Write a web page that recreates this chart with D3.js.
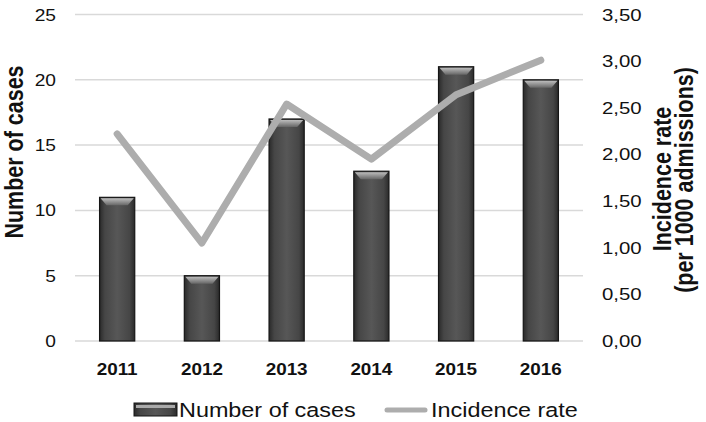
<!DOCTYPE html>
<html><head><meta charset="utf-8">
<script src="https://cdn.jsdelivr.net/npm/d3@7"></script>
<style>
body{margin:0;background:#fff;}
text{font-family:"Liberation Sans",Arial,sans-serif;}
</style></head>
<body><svg id="c" width="706" height="422"></svg>
<script>
const years = ["2011","2012","2013","2014","2015","2016"];
const cases = [11,5,17,13,21,20];
const rate = [2.22,1.05,2.54,1.95,2.64,3.01];
const leftTicks = [0,5,10,15,20,25];
const rightTicks = [0,0.5,1,1.5,2,2.5,3,3.5];

const svg = d3.select("#c");
const m = {l:75, r:583, t:14.5, b:341};
const SX = 1.2; // horizontal stretch of the reference picture
const x = d3.scaleBand().domain(years).range([m.l,m.r]).paddingInner(0.585).paddingOuter(0.29);
const yL = d3.scaleLinear().domain([0,25]).range([m.b,m.t]);
const yR = d3.scaleLinear().domain([0,3.5]).range([m.b,m.t]);

const defs = svg.append("defs");
const g = defs.append("linearGradient").attr("id","bar").attr("x1","0").attr("x2","1").attr("y1","0").attr("y2","0");
g.append("stop").attr("offset","0").attr("stop-color","#2a2a2a");
g.append("stop").attr("offset","0.15").attr("stop-color","#464646");
g.append("stop").attr("offset","0.5").attr("stop-color","#575757");
g.append("stop").attr("offset","0.85").attr("stop-color","#464646");
g.append("stop").attr("offset","1").attr("stop-color","#2a2a2a");
const gt = defs.append("linearGradient").attr("id","bev").attr("x1","0").attr("x2","0").attr("y1","0").attr("y2","1");
gt.append("stop").attr("offset","0").attr("stop-color","#bdbdbd");
gt.append("stop").attr("offset","1").attr("stop-color","#666");

// gridlines
svg.append("g").selectAll("line").data(leftTicks).join("line")
  .attr("x1",m.l).attr("x2",m.r).attr("y1",d=>yL(d)).attr("y2",d=>yL(d))
  .attr("stroke","#d9d9d9").attr("stroke-width",1.5);

// left tick labels
svg.append("g").selectAll("text").data(leftTicks).join("text")
  .attr("transform",d=>`translate(56,${yL(d)+6}) scale(1.13,1)`)
  .attr("text-anchor","end").attr("font-size",17).attr("fill","#111").text(d=>d);

// right tick labels
const fmt = d=>d.toFixed(2).replace(".",",");
svg.append("g").selectAll("text").data(rightTicks).join("text")
  .attr("transform",d=>`translate(602,${yR(d)+6}) scale(${SX},1)`)
  .attr("text-anchor","start").attr("font-size",17).attr("fill","#111").text(fmt);

// bars
const bars = svg.append("g");
bars.selectAll("rect").data(cases).join("rect")
  .attr("x",(d,i)=>x(years[i])).attr("y",d=>yL(d))
  .attr("width",x.bandwidth()).attr("height",d=>yL(0)-yL(d))
  .attr("fill","url(#bar)").attr("stroke","#151515").attr("stroke-width",1.2);
bars.selectAll("path").data(cases).join("path")
  .attr("d",(d,i)=>{const x0=x(years[i])+1, w=x.bandwidth()-2, y0=yL(d)+1, h=7;
    return `M${x0},${y0}L${x0+w},${y0}L${x0+w-6},${y0+h}L${x0+6},${y0+h}Z`;})
  .attr("fill","url(#bev)");

// line
svg.append("path").datum(rate)
  .attr("d",d3.line().x((d,i)=>x(years[i])+x.bandwidth()/2).y(d=>yR(d)))
  .attr("fill","none").attr("stroke","#adadad").attr("stroke-width",7)
  .attr("stroke-linecap","round").attr("stroke-linejoin","round");

// x labels
svg.append("g").selectAll("text").data(years).join("text")
  .attr("transform",d=>`translate(${x(d)+x.bandwidth()/2},375) scale(1.18,1)`)
  .attr("text-anchor","middle")
  .attr("font-size",16).attr("font-weight","bold").attr("fill","#111").text(d=>d);

// axis titles
svg.append("text").attr("transform",`translate(23,152) scale(${SX},1) rotate(-90)`).attr("text-anchor","middle")
  .attr("font-size",21.5).attr("font-weight","bold").attr("fill","#111").text("Number of cases");
svg.append("text").attr("transform",`translate(671,179) scale(${SX},1) rotate(-90)`).attr("text-anchor","middle")
  .attr("font-size",21.5).attr("font-weight","bold").attr("fill","#111").text("Incidence rate");
svg.append("text").attr("transform",`translate(693,180) scale(${SX},1) rotate(-90)`).attr("text-anchor","middle")
  .attr("font-size",21.5).attr("font-weight","bold").attr("fill","#111").text("(per 1000 admissions)");

// legend
const lg = svg.append("g");
lg.append("rect").attr("x",134).attr("y",403).attr("width",43).attr("height",13)
  .attr("fill","url(#bar)").attr("stroke","#151515").attr("stroke-width",1);
lg.append("rect").attr("x",136).attr("y",405).attr("width",39).attr("height",3).attr("fill","#aaa");
lg.append("text").attr("transform",`translate(179,417) scale(${SX},1)`).attr("font-size",19.5).attr("fill","#111").text("Number of cases");
lg.append("line").attr("x1",387).attr("x2",425).attr("y1",410).attr("y2",410)
  .attr("stroke","#adadad").attr("stroke-width",5).attr("stroke-linecap","round");
lg.append("text").attr("transform",`translate(431,417) scale(${SX},1)`).attr("font-size",19.5).attr("fill","#111").text("Incidence rate");
</script></body></html>
